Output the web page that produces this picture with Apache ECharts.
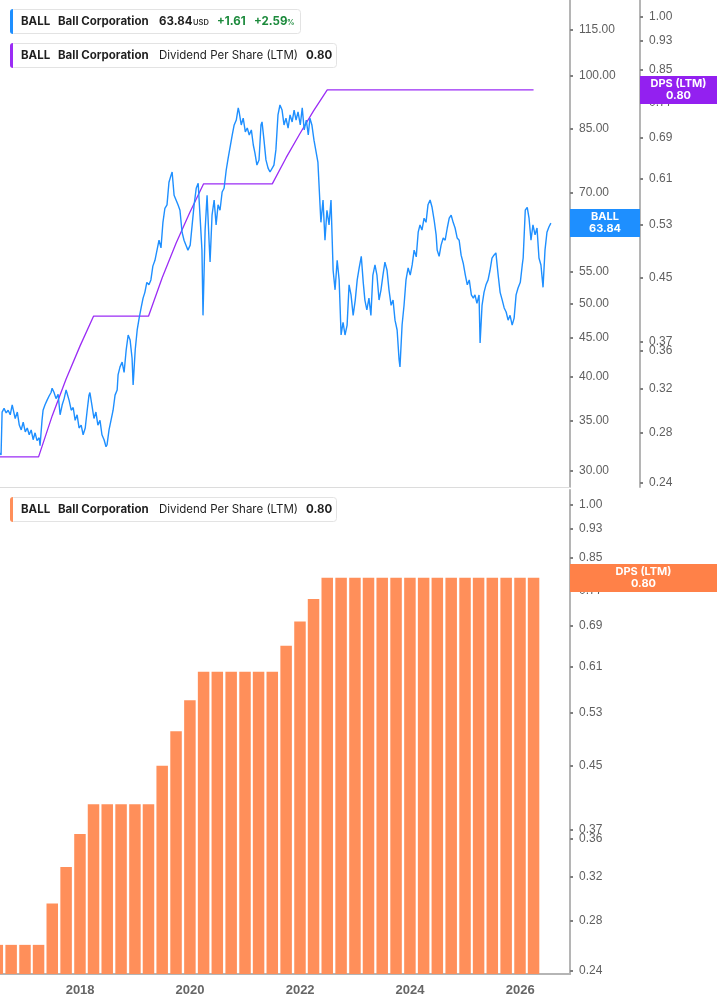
<!DOCTYPE html>
<html>
<head>
<meta charset="utf-8">
<script src="https://cdn.jsdelivr.net/npm/echarts@6.0.0/dist/echarts.min.js"></script>
<style>
html, body { margin: 0; padding: 0; background: #fff; }
#main { width: 717px; height: 1005px; }
</style>
</head>
<body>
<div id="main"></div>
<script>
// BALL daily close (thinned)
var priceDates = [
	'2016-07-18','2016-07-25','2016-08-01','2016-08-14','2016-08-28','2016-09-10','2016-09-24','2016-10-07','2016-10-14','2016-10-27',
	'2016-11-10','2016-11-23','2016-12-06','2016-12-19','2017-01-02','2017-01-15','2017-01-28','2017-02-10','2017-02-23','2017-03-08',
	'2017-03-21','2017-04-04','2017-04-10','2017-04-23','2017-04-30','2017-05-13','2017-05-26','2017-06-09','2017-06-22','2017-06-29',
	'2017-07-12','2017-07-25','2017-08-08','2017-08-21','2017-09-04','2017-09-17','2017-09-30','2017-10-07','2017-10-20','2017-11-03',
	'2017-11-16','2017-11-29','2017-12-12','2017-12-25','2018-01-08','2018-01-21','2018-02-04','2018-02-17','2018-03-01','2018-03-07',
	'2018-03-20','2018-04-03','2018-04-16','2018-04-29','2018-05-13','2018-05-26','2018-06-09','2018-06-22','2018-06-29','2018-07-12',
	'2018-07-25','2018-08-08','2018-08-21','2018-09-04','2018-09-10','2018-09-23','2018-10-07','2018-10-20','2018-11-03','2018-11-16',
	'2018-11-29','2018-12-12','2018-12-19','2019-01-02','2019-01-15','2019-01-28','2019-02-10','2019-02-23','2019-03-07','2019-03-20',
	'2019-04-03','2019-04-16','2019-04-29','2019-05-13','2019-05-26','2019-06-09','2019-06-22','2019-07-05','2019-07-18','2019-08-01',
	'2019-08-14','2019-08-28','2019-09-04','2019-09-17','2019-09-30','2019-10-13','2019-10-26','2019-11-09','2019-11-22','2019-12-05',
	'2019-12-18','2020-01-02','2020-01-15','2020-01-28','2020-02-11','2020-02-24','2020-03-07','2020-03-20','2020-03-27','2020-04-10',
	'2020-04-23','2020-05-06','2020-05-13','2020-05-26','2020-06-09','2020-06-22','2020-07-05','2020-07-18','2020-08-01','2020-08-14',
	'2020-08-28','2020-09-10','2020-09-23','2020-10-07','2020-10-20','2020-11-03','2020-11-16','2020-11-22','2020-12-06','2020-12-19',
	'2021-01-02','2021-01-15','2021-01-28','2021-02-11','2021-02-24','2021-03-07','2021-03-20','2021-04-03','2021-04-16','2021-04-23',
	'2021-05-06','2021-05-19','2021-06-02','2021-06-15','2021-06-28','2021-07-11','2021-07-24','2021-08-07','2021-08-20','2021-09-03',
	'2021-09-16','2021-09-29','2021-10-13','2021-10-26','2021-11-09','2021-11-22','2021-12-05','2021-12-18','2022-01-02','2022-01-15',
	'2022-01-28','2022-02-11','2022-02-24','2022-03-07','2022-03-20','2022-04-03','2022-04-16','2022-04-29','2022-05-13','2022-05-19',
	'2022-06-02','2022-06-15','2022-06-28','2022-07-12','2022-07-25','2022-08-08','2022-08-21','2022-09-04','2022-09-17','2022-09-30',
	'2022-10-13','2022-10-26','2022-11-09','2022-11-22','2022-12-05','2022-12-19','2023-01-02','2023-01-15','2023-01-28','2023-02-11',
	'2023-02-24','2023-03-07','2023-03-20','2023-04-03','2023-04-16','2023-04-29','2023-05-13','2023-05-26','2023-06-09','2023-06-22',
	'2023-07-05','2023-07-18','2023-08-01','2023-08-14','2023-08-28','2023-09-10','2023-09-23','2023-10-07','2023-10-20','2023-10-26',
	'2023-11-09','2023-11-22','2023-12-05','2023-12-19','2024-01-02','2024-01-15','2024-01-28','2024-02-11','2024-02-24','2024-03-07',
	'2024-03-20','2024-04-03','2024-04-16','2024-04-29','2024-05-13','2024-05-26','2024-06-09','2024-06-22','2024-06-29','2024-07-12',
	'2024-07-25','2024-08-08','2024-08-21','2024-09-04','2024-09-17','2024-09-30','2024-10-13','2024-10-26','2024-11-09','2024-11-22',
	'2024-12-05','2024-12-19','2025-01-02','2025-01-15','2025-01-28','2025-02-11','2025-02-24','2025-03-07','2025-03-20','2025-04-03',
	'2025-04-10','2025-04-23','2025-05-06','2025-05-19','2025-06-02','2025-06-15','2025-06-28','2025-07-11','2025-07-24','2025-08-08',
	'2025-08-21','2025-09-04','2025-09-17','2025-09-30','2025-10-13','2025-10-26','2025-11-09','2025-11-22','2025-12-05','2025-12-18',
	'2026-01-02','2026-01-15','2026-01-21','2026-02-04','2026-02-17','2026-03-01','2026-03-14','2026-03-27','2026-04-10','2026-04-23',
	'2026-05-06','2026-05-19','2026-06-02','2026-06-15','2026-06-28','2026-07-11','2026-07-24'
];
var priceValues = [
	31.7,31.5,35.9,36.3,35.8,36.1,35.6,36.7,36.9,35.2,
	35.9,34.5,34.0,34.8,33.8,34.2,33.5,34.0,33.0,33.7,
	32.9,33.2,32.4,35.0,36.1,36.7,37.2,37.7,38.1,38.6,
	38.1,37.4,37.9,35.6,36.7,37.4,38.4,38.6,37.2,36.1,
	36.4,35.0,35.6,34.2,34.5,33.5,34.2,36.1,37.8,38.1,
	36.7,35.2,35.9,34.5,35.0,33.5,33.0,32.3,32.5,34.0,
	35.0,36.1,37.8,38.4,40.2,41.2,41.8,40.5,43.4,45.4,
	44.7,42.3,39.0,43.4,46.1,47.8,49.3,50.8,51.7,53.3,
	52.9,53.7,56.0,57.0,56.7,60.6,59.2,64.0,66.8,67.5,
	72.3,73.9,74.6,69.5,68.5,67.5,66.4,62.1,60.6,59.7,
	58.8,59.7,63.5,67.5,71.0,72.1,65.4,58.8,48.2,62.5,
	69.5,60.6,56.7,65.4,68.5,63.5,67.5,66.4,70.2,71.0,
	75.0,77.8,77.4,83.5,86.1,87.4,90.7,89.6,86.1,87.9,
	84.3,85.3,83.5,84.8,81.0,79.0,76.2,77.4,86.1,86.9,
	82.2,77.4,75.5,74.6,75.0,76.2,79.8,88.8,91.5,90.1,
	86.1,87.9,85.3,88.8,86.9,90.1,87.4,89.6,86.1,90.7,
	84.8,87.4,83.5,87.9,86.1,82.2,82.7,76.9,67.5,64.0,
	68.5,60.6,66.4,63.5,68.5,55.3,52.1,57.0,53.7,45.4,
	47.2,45.4,46.8,52.9,51.3,48.2,50.5,53.7,55.7,57.7,
	53.3,50.5,49.0,50.8,48.2,54.5,56.2,54.5,50.5,52.1,
	54.5,56.7,55.3,52.1,49.7,50.5,47.5,46.1,42.1,41.2,
	46.8,49.7,53.7,55.7,54.5,56.2,58.8,57.6,62.1,63.5,
	62.5,64.8,64.0,67.5,68.5,67.0,64.4,61.6,58.8,57.7,
	59.7,61.0,60.6,62.9,64.8,65.4,64.0,62.9,61.0,60.6,
	57.9,56.5,54.5,52.9,53.7,51.3,50.8,51.3,50.0,51.3,
	44.3,49.7,51.7,52.9,53.7,55.3,57.4,57.9,58.3,54.5,
	51.7,50.5,49.3,48.7,47.5,48.2,46.8,47.8,51.3,52.4,
	53.3,56.2,57.4,66.4,67.0,64.8,60.6,63.5,61.6,62.9,
	57.4,56.2,52.5,58.8,62.1,63.1,63.84
];

// Dividend per share (LTM), quarterly
var dpsDates = [
	'2016-06-30','2016-09-30','2016-12-31','2017-03-31','2017-06-30','2017-09-30','2017-12-31','2018-03-31',
	'2018-06-30','2018-09-30','2018-12-31','2019-03-31','2019-06-30','2019-09-30','2019-12-31','2020-03-31',
	'2020-06-30','2020-09-30','2020-12-31','2021-03-31','2021-06-30','2021-09-30','2021-12-31','2022-03-31',
	'2022-06-30','2022-09-30','2022-12-31','2023-03-31','2023-06-30','2023-09-30','2023-12-31','2024-03-31',
	'2024-06-30','2024-09-30','2024-12-31','2025-03-31','2025-06-30','2025-09-30','2025-12-31','2026-03-31'
];
var dpsValues = [
	0.26,0.26,0.26,0.26,0.295,0.33,0.365,0.40,
	0.40,0.40,0.40,0.40,0.45,0.50,0.55,0.60,
	0.60,0.60,0.60,0.60,0.60,0.65,0.70,0.75,
	0.80,0.80,0.80,0.80,0.80,0.80,0.80,0.80,
	0.80,0.80,0.80,0.80,0.80,0.80,0.80,0.80
];

var priceTicks = [115, 100, 85, 70, 55, 50, 45, 40, 35, 30];
var dpsTicks = [1.00, 0.93, 0.85, 0.77, 0.69, 0.61, 0.53, 0.45, 0.37, 0.36, 0.32, 0.28, 0.24];
var yearTicks = [2018, 2020, 2022, 2024, 2026];

var lastPrice = 63.84;
var lastDps = 0.80;

var xMin = '2016-07-18';
var xMax = '2026-11-28';
var priceMin = 28.57, priceMax = 126.0;
var dpsTopMin = 0.2371, dpsTopMax = 1.0535;
var dpsBotMin = 0.2378, dpsBotMax = 1.047;

var BLUE = '#1e8fff';
var PURPLE = '#9b2cf5';
var ORANGE = '#ff8f5a';
var axisFont = '"Liberation Sans", Arial, sans-serif';
var legendFont = 'Inter, "Noto Sans", sans-serif';
var YEAR_MS = 365.25 * 24 * 3600 * 1000;

var priceData = priceDates.map(function (d, i) { return [d, priceValues[i]]; });
var dpsData = dpsDates.map(function (d, i) { return [d, dpsValues[i]]; });

function logAxis(grid, min, max, ticks, offset) {
	return {
		type : 'log',
		gridIndex : grid,
		position : 'right',
		offset : offset || 0,
		min : min,
		max : max,
		axisLine : { show : true, lineStyle : { color : '#b5b5b5', width : 2 } },
		axisTick : { show : true, customValues : ticks, length : 3, lineStyle : { color : '#808080', width : 2 } },
		axisLabel : {
			customValues : ticks,
			formatter : function (v) { return (+v).toFixed(2); },
			color : '#5f5f5f',
			fontSize : 12,
			fontFamily : axisFont,
			margin : 9
		},
		splitLine : { show : false }
	};
}

var chart = echarts.init(document.getElementById('main'));

var option = {
	animation : false,
	backgroundColor : '#fff',
	grid : [
		{ left : 0, top : 0, width : 570, height : 487 },
		{ left : 0, top : 490, width : 570, height : 484 }
	],
	xAxis : [ {
		type : 'time',
		gridIndex : 0,
		min : xMin,
		max : xMax,
		axisLine : { show : true, lineStyle : { color : '#dcdcdc', width : 1 } },
		axisTick : { show : false },
		axisLabel : { show : false },
		splitLine : { show : false }
	}, {
		type : 'time',
		gridIndex : 1,
		min : xMin,
		max : xMax,
		minInterval : YEAR_MS,
		maxInterval : YEAR_MS,
		axisLine : { show : true, lineStyle : { color : '#b5b5b5', width : 2 } },
		axisTick : { show : false },
		axisLabel : {
			formatter : function (v) {
				var d = new Date(v);
				var y = d.getFullYear();
				if (d.getMonth() !== 0 || d.getDate() !== 1) return '';
				return yearTicks.indexOf(y) >= 0 ? String(y) : '';
			},
			color : '#666',
			fontWeight : 'bold',
			fontSize : 13,
			fontFamily : axisFont,
			margin : 10,
			hideOverlap : false
		},
		splitLine : { show : false }
	} ],
	yAxis : [
		logAxis(0, priceMin, priceMax, priceTicks, 0),
		logAxis(0, dpsTopMin, dpsTopMax, dpsTicks, 70),
		logAxis(1, dpsBotMin, dpsBotMax, dpsTicks, 0)
	],
	series : [ {
		name : 'BALL',
		type : 'line',
		xAxisIndex : 0,
		yAxisIndex : 0,
		data : priceData,
		showSymbol : false,
		lineStyle : { color : BLUE, width : 1.4 },
		itemStyle : { color : BLUE },
		z : 3
	}, {
		name : 'Dividend Per Share (LTM)',
		type : 'line',
		xAxisIndex : 0,
		yAxisIndex : 1,
		data : dpsData,
		showSymbol : false,
		lineStyle : { color : PURPLE, width : 1.3 },
		itemStyle : { color : PURPLE },
		z : 2
	}, {
		name : 'DPS bars',
		type : 'custom',
		xAxisIndex : 1,
		yAxisIndex : 2,
		data : dpsData,
		encode : { x : 0, y : 1 },
		renderItem : function (params, api) {
			var top = api.coord([ api.value(0), api.value(1) ]);
			var base = api.coord([ api.value(0), dpsBotMin ]);
			var cs = params.coordSys;
			var rect = echarts.graphic.clipRectByRect(
				{ x : top[0] - 5.75, y : top[1], width : 11.5, height : base[1] - top[1] },
				{ x : cs.x, y : cs.y, width : cs.width, height : cs.height }
			);
			if (!rect) return;
			return { type : 'rect', shape : rect, style : { fill : ORANGE } };
		}
	} ]
};

chart.setOption(option);

// legend boxes
function legendBox(y, w, color, parts) {
	var els = [ {
		type : 'rect', z : 100,
		shape : { x : 10.5, y : y + 0.5, width : w, height : 24, r : 3 },
		style : { fill : '#fff', stroke : '#e3e3e3', lineWidth : 1 }
	}, {
		type : 'rect', z : 101,
		shape : { x : 10, y : y, width : 3, height : 25, r : [ 3, 0, 0, 3 ] },
		style : { fill : color }
	} ];
	parts.forEach(function (p) {
		els.push({
			type : 'text', z : 102,
			x : p[0], y : y + 12.5 + (p[4] || 0),
			style : { text : p[1], font : p[2], fill : p[3] || '#1f1f1f', verticalAlign : 'middle' }
		});
	});
	return els;
}

var B12 = 'bold 11.5px ' + legendFont;
var N12 = '11.5px ' + legendFont;
var S8 = '600 7.5px ' + legendFont;
var GREEN = '#1c8a3c';

var graphics = [].concat(
	legendBox(9, 290, BLUE, [
		[ 21, 'BALL', B12 ], [ 58, 'Ball Corporation', B12 ], [ 159, '63.84', B12 ],
		[ 193, 'USD', S8, '#333', 1.5 ], [ 217, '+1.61', B12, GREEN ], [ 254, '+2.59', B12, GREEN ],
		[ 287, '%', S8, GREEN, 1.5 ]
	]),
	legendBox(43, 326, PURPLE, [
		[ 21, 'BALL', B12 ], [ 58, 'Ball Corporation', B12 ],
		[ 159, 'Dividend Per Share (LTM)', N12 ], [ 306, '0.80', B12 ]
	]),
	legendBox(497, 326, ORANGE, [
		[ 21, 'BALL', B12 ], [ 58, 'Ball Corporation', B12 ],
		[ 159, 'Dividend Per Share (LTM)', N12 ], [ 306, '0.80', B12 ]
	])
);

// value tags on the axes
function tag(x, w, yc, color, text) {
	return [ {
		type : 'rect', z : 110,
		shape : { x : x, y : Math.round(yc - 14), width : w, height : 28 },
		style : { fill : color }
	}, {
		type : 'text', z : 111,
		x : x + w / 2, y : yc,
		style : {
			text : text, font : 'bold 11px ' + legendFont, fill : '#fff',
			align : 'center', verticalAlign : 'middle', lineHeight : 12
		}
	} ];
}

var yPrice = chart.convertToPixel({ yAxisIndex : 0 }, lastPrice);
var yDpsTop = chart.convertToPixel({ yAxisIndex : 1 }, lastDps);
var yDpsBot = chart.convertToPixel({ yAxisIndex : 2 }, lastDps);

graphics = graphics.concat(
	tag(570, 70, yPrice, '#1e8fff', 'BALL\n63.84'),
	tag(640, 77, yDpsTop, '#9320f0', 'DPS (LTM)\n0.80'),
	tag(570, 147, yDpsBot, '#ff8148', 'DPS (LTM)\n0.80')
);

chart.setOption({ graphic : graphics });
</script>
</body>
</html>
